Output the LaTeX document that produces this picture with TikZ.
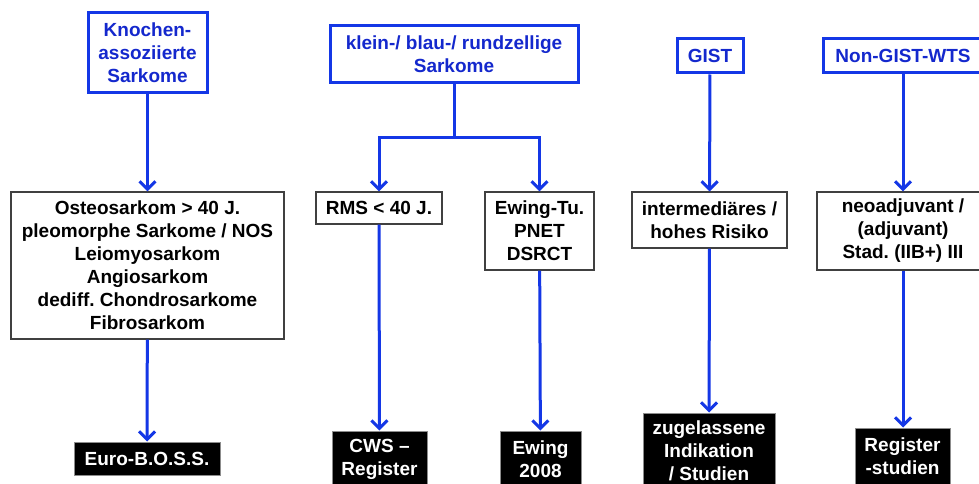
\documentclass[tikz,border=0pt]{standalone}
\usepackage{fontspec}
\setmainfont{Liberation Sans}
\usepackage{xcolor}
\usetikzlibrary{arrows.meta}
\frenchspacing
\definecolor{lineblue}{RGB}{20,55,230}
\definecolor{textblue}{RGB}{20,40,205}
\newcommand{\boxfont}{\fontsize{19}{23}\selectfont\bfseries}

\begin{document}
\begin{tikzpicture}[x=1pt,y=-1pt,
  topbox/.style={draw=lineblue,line width=3pt,text=textblue,font=\boxfont,align=center,inner sep=0pt},
  midbox/.style={draw=black!75,line width=1.2pt,fill=white,text=black,font=\boxfont,align=center,inner sep=0pt},
  endbox/.style={draw=black!45,line width=1pt,fill=black,text=white,font=\boxfont,align=center,inner sep=0pt},
  flow/.style={draw=lineblue,line width=3pt,-{Straight Barb[length=8pt,width=16pt,line width=3pt]}},
  plain/.style={draw=lineblue,line width=3pt}]

\clip (0,0) rectangle (979,484);
\fill[white] (0,0) rectangle (979,484);

\node[topbox,minimum width=119pt,minimum height=80pt] (knochen) at (147.5,53) {Knochen-\\assoziierte\\Sarkome};
\node[topbox,minimum width=248pt,minimum height=57pt] (klein) at (454,54.5) {klein-/ blau-/ rundzellige\\Sarkome};
\node[topbox,minimum width=66pt,minimum height=34pt] (gist) at (710,56) {GIST};
\node[topbox,minimum width=160pt,minimum height=34pt] (ngist) at (903,56) {Non-GIST-WTS};

\node[midbox,minimum width=273pt,minimum height=147pt] (osteo) at (147.5,265.5) {Osteosarkom {>} 40 J.\\pleomorphe Sarkome / NOS\\Leiomyosarkom\\Angiosarkom\\dediff. Chondrosarkome\\Fibrosarkom};
\node[midbox,minimum width=126pt,minimum height=32pt] (rms) at (379,208) {RMS {<} 40 J.};
\node[midbox,minimum width=109pt,minimum height=78pt] (ewingtu) at (539.5,231) {Ewing-Tu.\\PNET\\DSRCT};
\node[midbox,minimum width=155pt,minimum height=56pt] (inter) at (709.5,220) {intermediäres /\\hohes Risiko};
\node[midbox,minimum width=172pt,minimum height=78pt] (neo) at (903,231) {neoadjuvant /\\(adjuvant)\\Stad. (IIB+) III};

\node[endbox,minimum width=146pt,minimum height=33pt] (euro) at (147,458.5) {Euro-B.O.S.S.};
\node[endbox,minimum width=95pt,minimum height=56pt] (cws) at (379.5,459) {CWS –\\Register};
\node[endbox,minimum width=81pt,minimum height=56pt] (ewing08) at (540.5,459) {Ewing\\2008};
\node[endbox,minimum width=132pt,minimum height=76pt] (zug) at (709,451) {zugelassene\\Indikation\\/ Studien};
\node[endbox,minimum width=95pt,minimum height=56pt] (regst) at (902.5,456) {Register\\-studien};

\coordinate (split) at (454,137);

\draw[flow] (knochen) -- (osteo);
\draw[plain] (klein) -- (split);
\draw[flow] (split) -| (rms);
\draw[flow] (split) -| (ewingtu);
\draw[flow] (gist) -- (inter);
\draw[flow] (ngist) -- (neo);

\draw[flow] (osteo) -- (euro);
\draw[flow] (rms) -- (cws);
\draw[flow] (ewingtu) -- (ewing08);
\draw[flow] (inter) -- (zug);
\draw[flow] (neo) -- (regst.north -| neo);
\end{tikzpicture}
\end{document}
